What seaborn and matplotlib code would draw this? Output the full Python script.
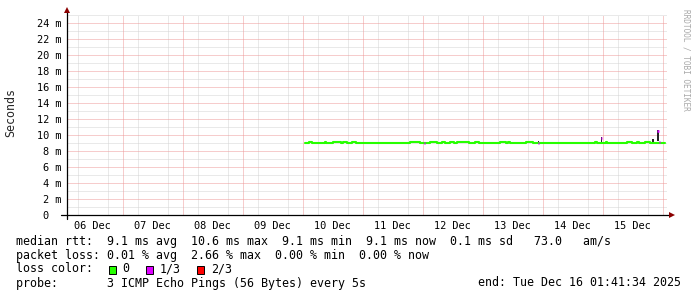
import matplotlib
matplotlib.use("Agg")
import matplotlib.pyplot as plt
import seaborn as sns
import pandas as pd
from matplotlib.patches import Rectangle
from matplotlib.ticker import FixedLocator

# ---------------- data (time in days since 06 Dec 00:00, values in ms) ----------------
view_start = 0.0705   # 06 Dec 01:41:34
view_end = 10.0705    # 16 Dec 01:41:34
day_label_pos = [0.5, 1.5, 2.5, 3.5, 4.5, 5.5, 6.5, 7.5, 8.5, 9.5]
day_labels = ["06 Dec", "07 Dec", "08 Dec", "09 Dec", "10 Dec",
              "11 Dec", "12 Dec", "13 Dec", "14 Dec", "15 Dec"]
y_ticks = [0, 2, 4, 6, 8, 10, 12, 14, 16, 18, 20, 22, 24]
y_tick_labels = ["0  ", "2 m", "4 m", "6 m", "8 m", "10 m", "12 m", "14 m",
                 "16 m", "18 m", "20 m", "22 m", "24 m"]

# median rtt (step series, loss = 0)
median_t = [4.037, 4.104, 4.154, 4.371, 4.388, 4.504, 4.637, 4.670, 4.737, 4.821,
            4.887, 5.787, 5.954, 6.121, 6.237, 6.321, 6.371, 6.454, 6.521, 6.571,
            6.771, 6.871, 6.937, 7.287, 7.387, 7.421, 7.454, 7.721, 7.837, 8.871,
            8.904, 9.054, 9.071, 9.404, 9.487, 9.571, 9.604, 9.704, 9.787, 10.037]
median_v = [9.05, 9.17, 9.05, 9.17, 9.05, 9.17, 9.05, 9.17, 9.05, 9.17,
            9.05, 9.17, 9.05, 9.17, 9.05, 9.17, 9.05, 9.17, 9.05, 9.17,
            9.05, 9.17, 9.05, 9.17, 9.05, 9.17, 9.05, 9.17, 9.05, 9.17,
            9.05, 9.17, 9.05, 9.17, 9.05, 9.17, 9.05, 9.17, 9.05, 9.05]

# median segments with 1/3 packet loss
loss_t0 = [6.021, 7.921, 8.971, 9.904, 9.937]
loss_t1 = [6.037, 7.937, 8.990, 9.937, 9.954]
loss_v = [9.05, 9.05, 9.65, 10.50, 9.10]

# smoke (spread of the individual pings)
smoke_t = [7.930, 8.978, 9.835, 9.918]
smoke_lo = [9.15, 9.10, 9.10, 9.20]
smoke_hi = [9.30, 9.75, 9.45, 10.60]

# legend text
line1 = "median rtt:  9.1 ms avg  10.6 ms max  9.1 ms min  9.1 ms now  0.1 ms sd   73.0   am/s"
line2 = "packet loss: 0.01 % avg  2.66 % max  0.00 % min  0.00 % now"
line4a = "probe:       3 ICMP Echo Pings (56 Bytes) every 5s"
line4b = "end: Tue Dec 16 01:41:34 2025"
loss_legend = [("0", "#26ff00"), ("1/3", "#dd00ff"), ("2/3", "#ff0000")]

# ---------------- style ----------------
sns.set_style("white")
plt.rcParams["font.family"] = ["DejaVu Sans Mono"]
W, H = 697, 297
MONO = "DejaVu Sans Mono"

fig = plt.figure(figsize=(W / 100, H / 100), dpi=100, facecolor="white")
ax = fig.add_axes([67 / W, 82 / H, 600 / W, 200 / H])
ax.set_facecolor("white")

ax.set_xlim(view_start, view_end)
ax.set_ylim(0, 25)

# grid: minor every 6 h / 1 ms (grey), major every day / 2 ms (red-ish)
grid_minor = "#d4d4d4"
grid_major = "#ee9a9a"
dots = (0, (1, 1))
x_minor = [q / 4 for q in range(0, 41) if q % 4 != 0]
y_minor = [v for v in range(1, 26) if v % 2 == 1]
ax.xaxis.set_minor_locator(FixedLocator(x_minor))
ax.yaxis.set_minor_locator(FixedLocator(y_minor))
ax.grid(which="minor", axis="both", color=grid_minor, linestyle=dots, linewidth=0.72)
ax.grid(which="major", visible=False)
ax.set_axisbelow(True)
for d in range(1, 11):
    ax.axvline(d, color=grid_major, linestyle=dots, linewidth=0.72, zorder=1)
for v in y_ticks[1:]:
    ax.axhline(v, color=grid_major, linestyle=dots, linewidth=0.72, zorder=1)

# smoke
ax.bar(smoke_t, [h - l for h, l in zip(smoke_hi, smoke_lo)], bottom=smoke_lo,
       width=0.028, color="#262626", linewidth=0, zorder=2)

# median line
df = pd.DataFrame({"t": median_t, "rtt": median_v})
sns.lineplot(data=df, x="t", y="rtt", ax=ax, color="#26ff00", linewidth=1.5,
             drawstyle="steps-post", zorder=3)
ax.hlines(loss_v, loss_t0, loss_t1, color="#dd00ff", linewidth=1.8, zorder=4)

# ticks
ax.xaxis.set_major_locator(FixedLocator(day_label_pos))
ax.set_xticklabels(day_labels)
ax.yaxis.set_major_locator(FixedLocator(y_ticks))
ax.set_yticklabels(y_tick_labels)
ax.tick_params(axis="x", which="both", length=0, pad=4, labelsize=7.35, labelcolor="black")
ax.tick_params(axis="y", which="major", length=2, width=0.7, color="#000000", pad=2,
               labelsize=7.35, labelcolor="black", direction="out")
ax.tick_params(axis="y", which="minor", length=0)
ax.set_xlabel("")
ax.set_ylabel("")

for s in ax.spines.values():
    s.set_visible(False)

# axis lines with arrows
ax.plot([-6 / 600, 1 + 4 / 600], [0, 0], transform=ax.transAxes, color="#000000",
        linewidth=0.9, clip_on=False, zorder=5)
ax.plot([0, 0], [-4 / 200, 1 + 3 / 200], transform=ax.transAxes, color="#000000",
        linewidth=0.9, clip_on=False, zorder=5)
ax.plot([1 + 5 / 600], [0], marker=">", markersize=4.5, color="#8b0000",
        transform=ax.transAxes, clip_on=False, zorder=6, markeredgewidth=0)
ax.plot([0], [1 + 4.5 / 200], marker="^", markersize=4.5, color="#8b0000",
        transform=ax.transAxes, clip_on=False, zorder=6, markeredgewidth=0)

# y label & watermark
fig.text(11 / W, 1 - 113 / H, "Seconds", rotation=90, ha="center", va="center",
         fontsize=8.4, family=MONO)
fig.text(686 / W, 1 - 60 / H, "RRDTOOL / TOBI OETIKER", rotation=-90, ha="center",
         va="center", fontsize=5.6, family=MONO, color="#a8a8a8")

# legend rows
def row(x, y, s, **kw):
    fig.text(x / W, 1 - y / H, s, ha=kw.pop("ha", "left"), va="center",
             fontsize=8.4, family=MONO, color="black", **kw)

row(16, 241, line1)
row(16, 255, line2)
row(16, 269, "loss color:")
sq_x = [108.5, 145.5, 196.5]
lab_x = [122, 160, 211]
for (lab, col), sx, lx in zip(loss_legend, sq_x, lab_x):
    fig.add_artist(Rectangle((sx / W, 1 - 273.5 / H), 7 / W, 8 / H,
                             transform=fig.transFigure, facecolor=col,
                             edgecolor="black", linewidth=0.7))
    row(lx, 269, lab)
row(16, 283, line4a)
row(681, 283, line4b, ha="right")

fig.savefig("out.png", dpi=100, facecolor="white")
